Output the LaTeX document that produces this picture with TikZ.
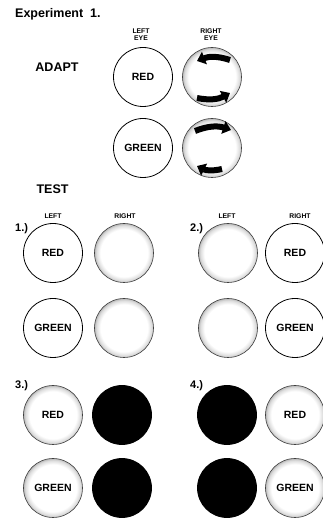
\documentclass[tikz,border=0pt]{standalone}
\usepackage{fontspec}
\setmainfont{Liberation Sans}
\usetikzlibrary{arrows.meta}
\pgfdeclareradialshading{rim}{\pgfpoint{0bp}{0bp}}{color(0bp)=(white); color(20bp)=(white); color(23.5bp)=(black!14); color(25bp)=(black!28); color(50bp)=(black!28)}
\tikzset{
  eye/.style={circle, minimum size=59pt, inner sep=0pt, line width=0.8pt, font=\fontsize{10.5}{12}\selectfont\bfseries},
  plain/.style={eye, draw=black},
  speck/.style={eye, draw=black!75, line width=0.6pt, shade, shading=rim},
  dark/.style={eye, fill=black, draw=black},
  head/.style={font=\fontsize{12.5}{14}\selectfont\bfseries},
  small/.style={font=\fontsize{6.8}{7.2}\selectfont\bfseries, align=center, inner sep=0pt},
  num/.style={font=\fontsize{11}{12}\selectfont\bfseries, anchor=west, inner sep=0pt},
  bigarrow/.style={line width=6pt, -{Triangle[width=13pt,length=8pt]}}
}
\begin{document}
\begin{tikzpicture}[x=1pt,y=1pt]
\useasboundingbox (0,0) rectangle (323,520);
% titles
\node[head, anchor=west, inner sep=0pt] (title) at (15,506) {Experiment\ \ 1.};
\node[head] (adapt) at (57,453) {ADAPT};
\node[head] (test) at (52.5,331) {TEST};
\node[small] (le) at (141,485) {LEFT\\EYE};
\node[small] (re) at (211,485) {RIGHT\\EYE};
% adapt circles
\node[plain] (a1) at (143,443) {RED};
\node[speck] (a2) at (212,443) {};
\node[plain] (b1) at (143,372) {GREEN};
\node[speck] (b2) at (212,372) {};
\draw[bigarrow] ([shift={(18,17)}]a2.center) to[bend right=20] ([shift={(-15,16)}]a2.center);
\draw[bigarrow] ([shift={(-15,-21)}]a2.center) to[bend right=20] ([shift={(18,-16)}]a2.center);
\draw[bigarrow] ([shift={(-17,17)}]b2.center) to[bend left=20] ([shift={(19,18)}]b2.center);
\draw[bigarrow] ([shift={(10,-21)}]b2.center) to[bend left=20] ([shift={(-15,-18)}]b2.center);
% test labels
\node[small] (l1) at (53,304) {LEFT};
\node[small] (r1) at (125,304) {RIGHT};
\node[small] (l2) at (227,304) {LEFT};
\node[small] (r2) at (300,304) {RIGHT};
\node[num] (n1) at (15,291) {1.)};
\node[num] (n2) at (190,291) {2.)};
\node[num] (n3) at (15,134) {3.)};
\node[num] (n4) at (190,134) {4.)};
% test 1
\node[plain] (t1a) at (53,267) {RED};
\node[speck] (t1b) at (124,267) {};
\node[plain] (t1c) at (53,192) {GREEN};
\node[speck] (t1d) at (124,192) {};
% test 2
\node[speck] (t2a) at (228,267) {};
\node[plain] (t2b) at (295,267) {RED};
\node[speck] (t2c) at (228,192) {};
\node[plain] (t2d) at (295,192) {GREEN};
% test 3
\node[speck] (t3a) at (53,105) {RED};
\node[dark] (t3b) at (122,105) {};
\node[speck] (t3c) at (53,32) {GREEN};
\node[dark] (t3d) at (122,32) {};
% test 4
\node[dark] (t4a) at (227,105) {};
\node[speck] (t4b) at (295,105) {RED};
\node[dark] (t4c) at (227,32) {};
\node[speck] (t4d) at (295,32) {GREEN};
\end{tikzpicture}
\end{document}
